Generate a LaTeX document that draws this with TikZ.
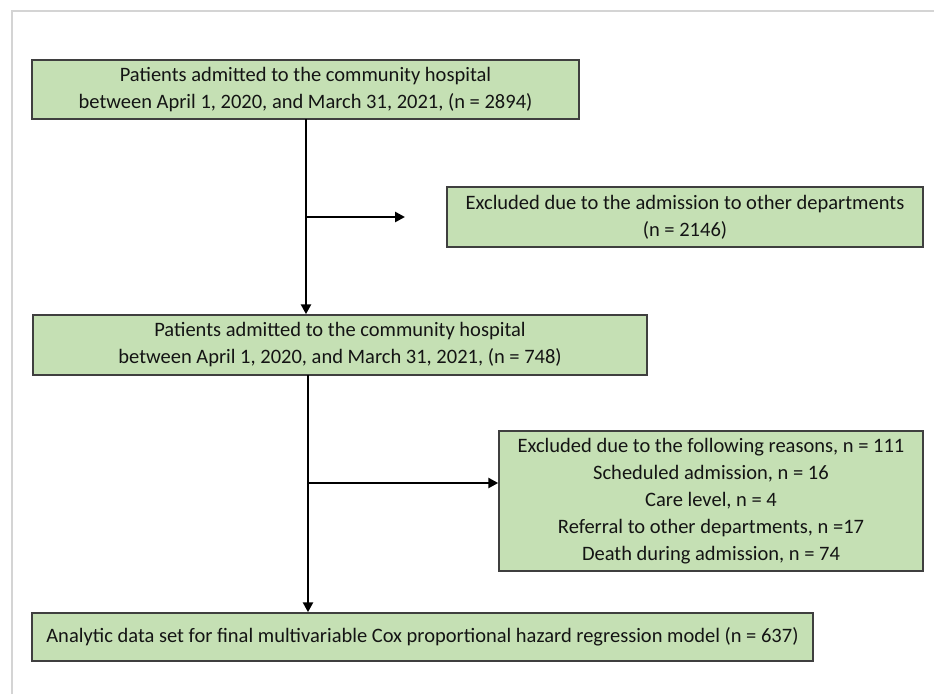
\documentclass[tikz,border=0pt]{standalone}
\usepackage{fontspec}
\setmainfont{Carlito}
\usetikzlibrary{arrows.meta,calc}
\definecolor{boxgreen}{HTML}{C5E0B4}
\definecolor{boxedge}{HTML}{3F3F3F}
\definecolor{framegray}{HTML}{D4D4D4}
\begin{document}
\begin{tikzpicture}[x=1pt,y=1pt,
  flowbox/.style={draw=boxedge, line width=1.5pt, fill=boxgreen, align=center,
    inner sep=0pt, font=\fontsize{20.5}{27}\selectfont, text=black!92},
  arr/.style={draw=black, line width=2.7pt, -{Triangle[length=10pt,width=10pt]}}]
\useasboundingbox (0,0) rectangle (934,-694);
\draw[framegray, line width=1.2pt] (12,-694) -- (12,-11) -- (934,-11);
\node[flowbox, minimum width=547pt, minimum height=59pt] (b1) at (305.5,-89.5)
  {Patients admitted to the community hospital\\between April 1, 2020, and March 31, 2021, (n = 2894)};
\node[flowbox, minimum width=476pt, minimum height=60pt] (b2) at (685,-217)
  {Excluded due to the admission to other departments\\(n = 2146)};
\node[flowbox, minimum width=614pt, minimum height=60pt] (b3) at (340,-345)
  {Patients admitted to the community hospital\\between April 1, 2020, and March 31, 2021, (n = 748)};
\node[flowbox, minimum width=424pt, minimum height=140pt] (b4) at (711,-501)
  {Excluded due to the following reasons, n = 111\\Scheduled admission, n = 16\\Care level, n = 4\\Referral to other departments, n =17\\Death during admission, n = 74};
\node[flowbox, minimum width=781pt, minimum height=48pt] (b5) at (422.5,-637)
  {Analytic data set for final multivariable Cox proportional hazard regression model (n = 637)};
\coordinate (v1) at (306,-119);
\coordinate (j1) at (306,-217);
\coordinate (e1) at (405,-217);
\coordinate (v2) at (308,-375);
\coordinate (j2) at (308,-483);
\draw[arr] (v1) -- (v1 |- b3.north);
\draw[arr] (j1) -- (e1);
\draw[arr] (v2) -- (v2 |- b5.north);
\draw[arr] (j2) -- (j2 -| b4.west);
\end{tikzpicture}
\end{document}
